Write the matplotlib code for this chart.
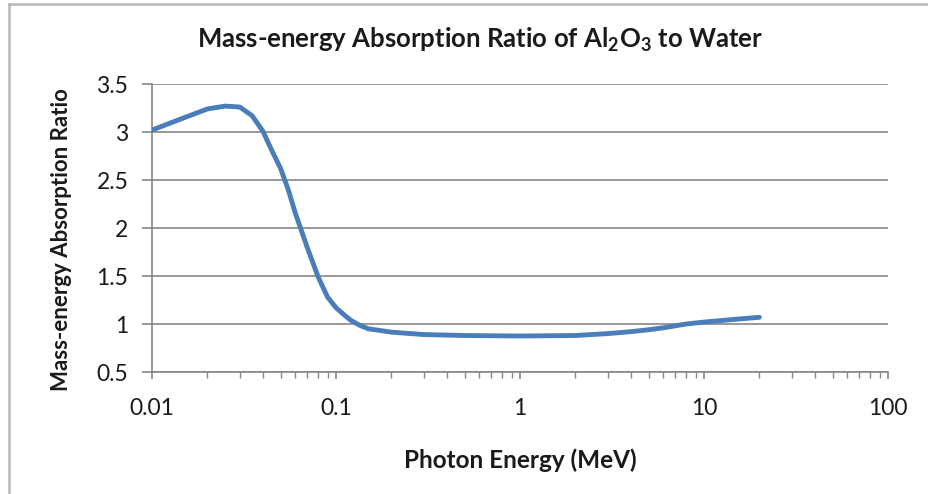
import matplotlib.pyplot as plt
from matplotlib.lines import Line2D
from matplotlib.ticker import LogLocator, NullFormatter, FixedLocator, FixedFormatter

# photon energy (MeV) and Al2O3 / water mass-energy absorption ratio
energy = [0.01, 0.015, 0.02, 0.025, 0.03, 0.035, 0.04, 0.045, 0.05, 0.055,
          0.06, 0.07, 0.08, 0.09, 0.1, 0.11, 0.12, 0.135, 0.15, 0.2,
          0.3, 0.5, 1, 2, 3, 4, 5, 6, 8, 10, 15, 20]
ratio = [3.02, 3.15, 3.24, 3.27, 3.26, 3.17, 3.01, 2.80, 2.62, 2.40,
         2.16, 1.79, 1.49, 1.28, 1.17, 1.10, 1.04, 0.985, 0.95, 0.915,
         0.89, 0.88, 0.875, 0.88, 0.90, 0.92, 0.94, 0.96, 1.00, 1.02, 1.05, 1.07]

y_ticks = [0.5, 1, 1.5, 2, 2.5, 3, 3.5]
y_labels = ["0.5", "1", "1.5", "2", "2.5", "3", "3.5"]
x_ticks = [0.01, 0.1, 1, 10, 100]
x_labels = ["0.01", "0.1", "1", "10", "100"]

plt.rcParams['font.family'] = ['Lato', 'DejaVu Sans']
grey = "#868686"
txt = "#1a1a1a"

fig = plt.figure(figsize=(9.29, 4.94), dpi=100)
ax = fig.add_axes([152/929, 1-372/494, (888-152)/929, (372-84)/494])

ax.plot(energy, ratio, color="#4a7ebb", lw=3.5, solid_capstyle="round",
        solid_joinstyle="round", zorder=3)

ax.set_xscale("log")
ax.set_xlim(0.01, 100)
ax.set_ylim(0.5, 3.5)
ax.xaxis.set_major_locator(FixedLocator(x_ticks))
ax.xaxis.set_major_formatter(FixedFormatter(x_labels))
ax.xaxis.set_minor_locator(LogLocator(base=10, subs=range(2, 10)))
ax.xaxis.set_minor_formatter(NullFormatter())
ax.set_yticks(y_ticks)
ax.set_yticklabels(y_labels)

ax.grid(axis="y", color=grey, lw=1.2)
ax.set_axisbelow(True)
for s in ["top", "right"]:
    ax.spines[s].set_visible(False)
for s in ["left", "bottom"]:
    ax.spines[s].set_color(grey)
    ax.spines[s].set_linewidth(1.2)

ax.tick_params(axis="y", which="major", length=7, width=1.2, color=grey,
               labelsize=16.5, labelcolor=txt, pad=10)
ax.tick_params(axis="x", which="major", length=5, width=1.2, color=grey,
               labelsize=16.5, labelcolor=txt, pad=14)
ax.tick_params(axis="x", which="minor", length=4, width=1.0, color=grey)

ax.set_xlabel("Photon Energy (MeV)", fontsize=17.5, fontweight="bold", color=txt, va="center")
ax.xaxis.set_label_coords(0.5, (372-460)/288)
ax.set_ylabel("Mass-energy Absorption Ratio", fontsize=16, fontweight="bold", color=txt, va="center")
ax.yaxis.set_label_coords((62-152)/736, (372-240)/288)
fig.text(480/929, 1-40/494, r"Mass-energy Absorption Ratio of Al$_\mathregular{2}$O$_\mathregular{3}$ to Water",
         ha="center", va="center", fontsize=18.5, fontweight="bold", color=txt)

# chart frame
fig.add_artist(Line2D([8.5/929, 1], [1-4.5/494]*2, color="#b8b8b8", lw=1.8))
fig.add_artist(Line2D([8.5/929]*2, [0, 1-4.5/494], color="#b8b8b8", lw=1.8))

fig.savefig("out.png", dpi=100)
